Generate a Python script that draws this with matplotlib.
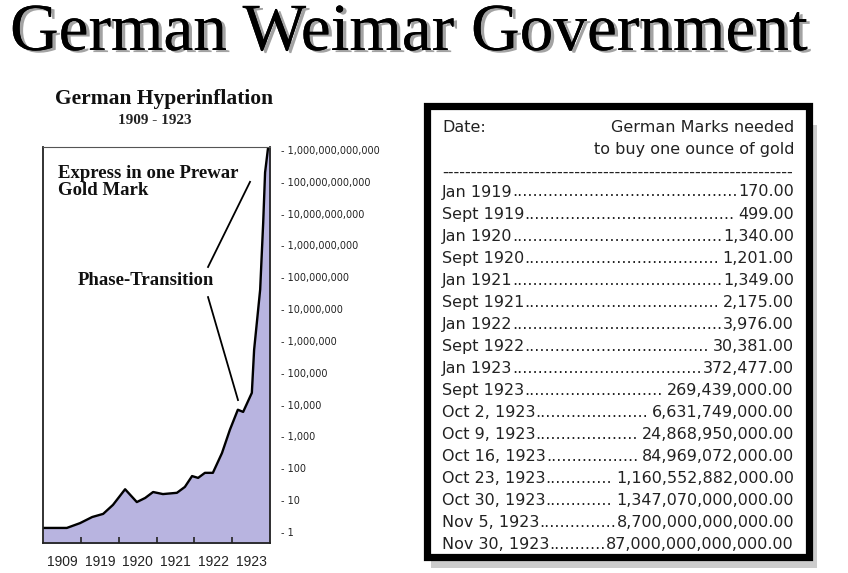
import matplotlib
matplotlib.use("Agg")
import matplotlib.pyplot as plt
import matplotlib.patheffects as pe
from matplotlib.patches import Rectangle

W, H = 848, 573

# curve: position along the axis (0..6) and paper marks per gold mark
period_pos = [0.0, 0.63, 0.98, 1.30, 1.59, 1.85, 2.17, 2.48, 2.70, 2.91, 3.17, 3.54,
              3.75, 3.94, 4.10, 4.28, 4.49, 4.73, 4.94, 5.15, 5.29, 5.52, 5.58,
              5.74, 5.82, 5.87, 5.95, 6.0]
marks_per_gold = [1.34, 1.34, 1.9, 2.95, 3.7, 7.1, 22, 8.7, 11.7, 18, 15.5, 17,
                  26, 57, 50, 72, 72, 300, 1620, 6900, 5900, 23400, 525000,
                  4.1e7, 5.2e9, 1.95e11, 1.2e12, 1.3e12]
year_labels = ["1909", "1919", "1920", "1921", "1922", "1923"]
y_decades = list(range(0, 13))

# table of gold prices
dates = ["Jan 1919", "Sept 1919", "Jan 1920", "Sept 1920", "Jan 1921", "Sept 1921",
         "Jan 1922", "Sept 1922", "Jan 1923", "Sept 1923", "Oct 2, 1923",
         "Oct 9, 1923", "Oct 16, 1923", "Oct 23, 1923", "Oct 30, 1923",
         "Nov 5, 1923", "Nov 30, 1923"]
marks_needed = [170.00, 499.00, 1340.00, 1201.00, 1349.00, 2175.00, 3976.00,
                30381.00, 372477.00, 269439000.00, 6631749000.00, 24868950000.00,
                84969072000.00, 1160552882000.00, 1347070000000.00,
                8700000000000.00, 87000000000000.00]


def fx(px):
    return px / W


def fy(py):
    return 1 - py / H


fig = plt.figure(figsize=(W / 100, H / 100), dpi=100)
fig.patch.set_facecolor("white")

# big title with shadow
fig.text(fx(10), fy(50), "German Weimar Government", family="Liberation Serif",
         fontsize=48.5, color="black", ha="left", va="baseline",
         path_effects=[pe.withSimplePatchShadow(offset=(2.5, -1.5), shadow_rgbFace="#999999", alpha=0.9),
                       pe.Normal()])

# chart
ax = fig.add_axes([fx(43), fy(543), fx(270) - fx(43), fy(147) - fy(543)])
ax.set_yscale("log")
ax.fill_between(period_pos, marks_per_gold, 1e-3, color="#b8b4e0", linewidth=0)
ax.plot(period_pos, marks_per_gold, color="black", linewidth=1.7)
ax.set_xlim(0, 6)
ax.set_ylim(10 ** -0.346, 10 ** 12.09)

ax.yaxis.tick_right()
ax.set_yticks([10.0 ** k for k in y_decades])
ax.set_yticklabels(["- " + f"{10 ** k:,}" for k in y_decades], fontsize=7, color="#222222")
ax.minorticks_off()
ax.tick_params(axis="y", length=0, pad=8)

ax.set_xticks(range(1, 6))
ax.set_xticklabels([])
ax.set_xticks([i + 0.5 for i in range(len(year_labels))], minor=True)
ax.set_xticklabels(year_labels, minor=True, family="Liberation Sans", fontsize=10, color="#222222")
ax.tick_params(axis="x", which="major", direction="in", length=4, width=1.2, color="#222222")
ax.tick_params(axis="x", which="minor", length=0, pad=9)

for side in ["left", "bottom", "right"]:
    ax.spines[side].set_color("#222222")
    ax.spines[side].set_linewidth(1.3)
ax.spines["top"].set_color("#555555")
ax.spines["top"].set_linewidth(0.8)

ax.text(0.066, 0.955, "Express in one Prewar\nGold Mark", transform=ax.transAxes,
        family="Liberation Serif", weight="bold", fontsize=13.5, ha="left", va="top",
        linespacing=1.05, color="#111111")
ax.text(0.452, 0.664, "Phase-Transition", transform=ax.transAxes,
        family="Liberation Serif", weight="bold", fontsize=13.5, ha="center", va="center",
        color="#111111")
ax.plot([0.912, 0.727], [0.912, 0.697], transform=ax.transAxes, color="black", linewidth=1.3)
ax.plot([0.727, 0.859], [0.621, 0.361], transform=ax.transAxes, color="black", linewidth=1.3)

fig.text(fx(164), fy(99), "German Hyperinflation", family="Liberation Serif", weight="bold",
         fontsize=15.5, ha="center", va="center", color="#111111")
fig.text(fx(155), fy(121), "1909 - 1923", family="Liberation Serif", weight="bold",
         fontsize=11, ha="center", va="center", color="#222222")

# table box with shadow
fig.add_artist(Rectangle((fx(431), fy(568)), fx(817) - fx(431), fy(125) - fy(568),
                         transform=fig.transFigure, facecolor="#cccccc", edgecolor="none", zorder=1))
fig.add_artist(Rectangle((fx(426.5), fy(557)), fx(808.5) - fx(426.5), fy(106) - fy(557),
                         transform=fig.transFigure, facecolor="white", edgecolor="black",
                         linewidth=5.2, zorder=2))

tkw = dict(family="DejaVu Sans", fontsize=11.5, color="#222222", va="center", zorder=3)
x_left, x_right = fx(442), fx(794)
fig.text(x_left, fy(127), "Date:", ha="left", **tkw)
fig.text(x_right, fy(127), "German Marks needed", ha="right", **tkw)
fig.text(x_right, fy(150), "to buy one ounce of gold", ha="right", **tkw)

renderer = fig.canvas.get_renderer()
probe = fig.text(0, 0, "." * 50, ha="left", **tkw)
dot_w = probe.get_window_extent(renderer).width / 50
probe.remove()
probe = fig.text(0, 0, "-" * 50, ha="left", **tkw)
dash_w = probe.get_window_extent(renderer).width / 50
probe.remove()

n_dash = int((794 - 442) / dash_w)
fig.text(x_left, fy(172), "-" * n_dash, ha="left", **tkw)

for i, (d, v) in enumerate(zip(dates, marks_needed)):
    y = fy(192 + i * 22.06)
    t1 = fig.text(x_left, y, d, ha="left", **tkw)
    t2 = fig.text(x_right, y, f"{v:,.2f}", ha="right", **tkw)
    gap_l = t1.get_window_extent(renderer).x1
    gap_r = t2.get_window_extent(renderer).x0
    n_dots = int((gap_r - gap_l) / dot_w)
    fig.text(gap_l / W, y, "." * n_dots, ha="left", **tkw)

fig.savefig("out.png", dpi=100)
